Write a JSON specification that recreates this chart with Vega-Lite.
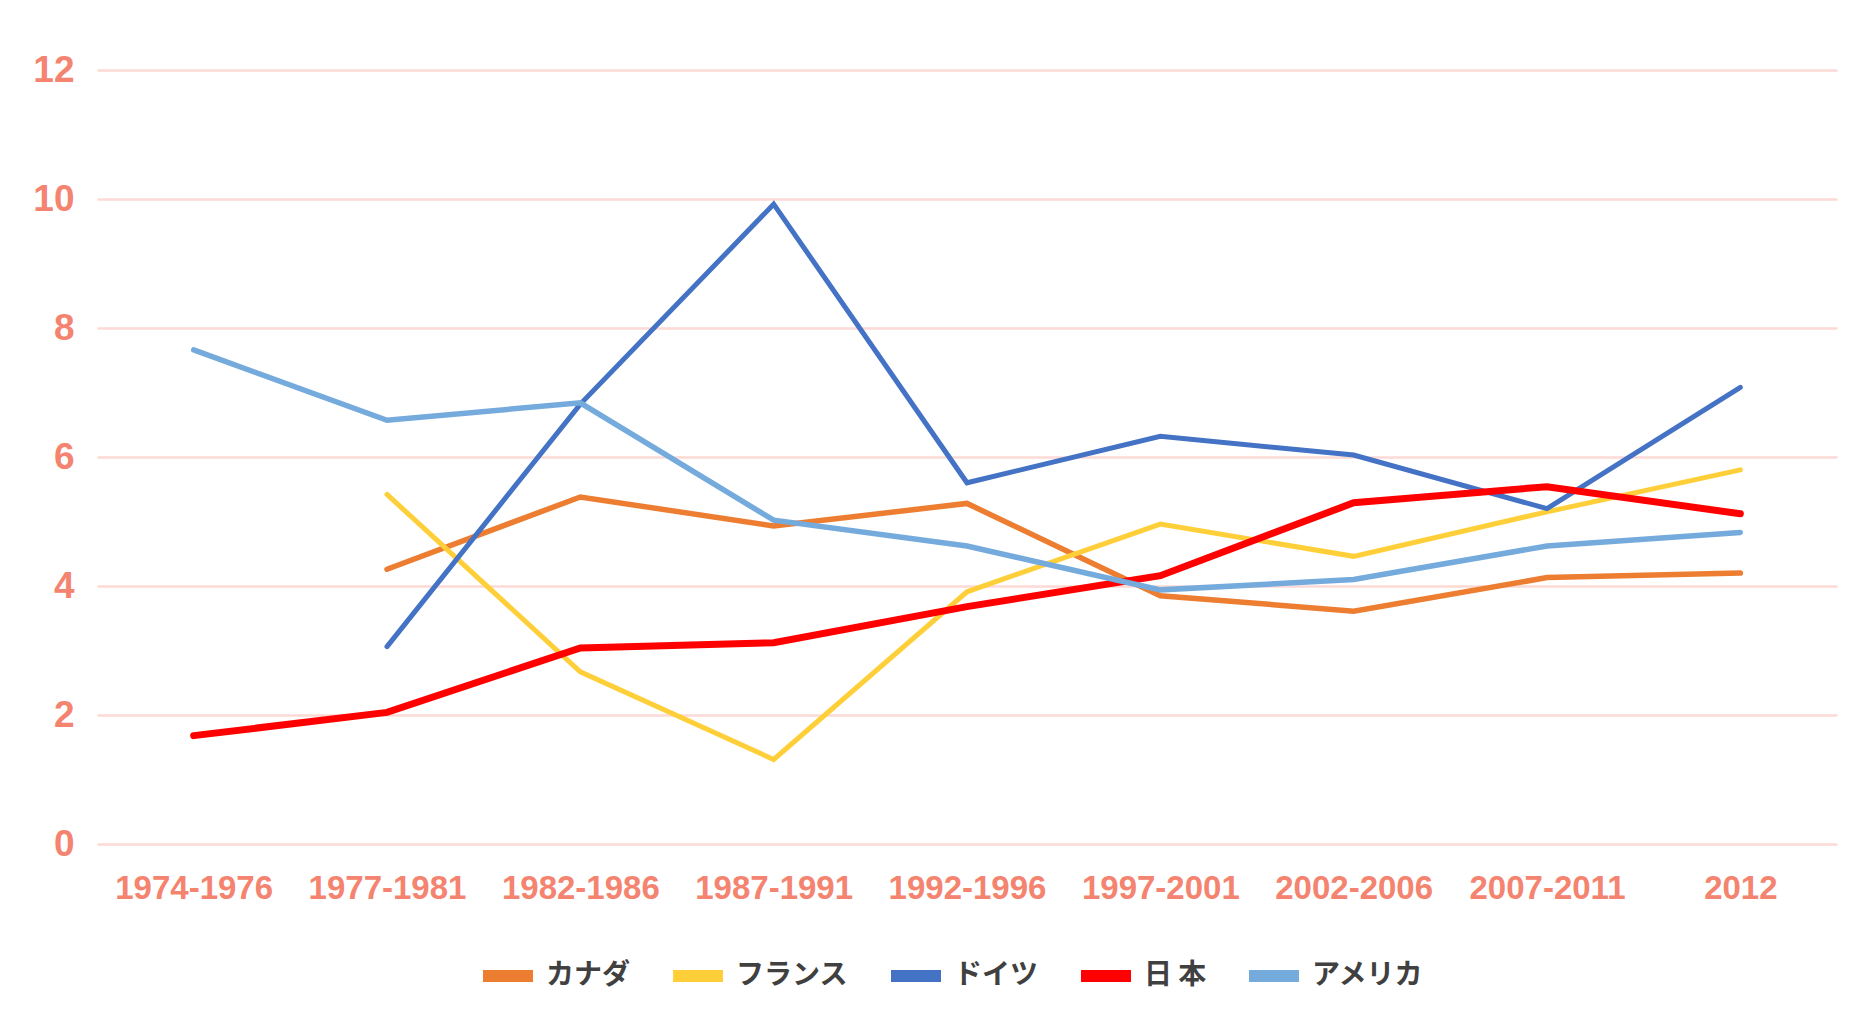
{
  "$schema": "https://vega.github.io/schema/vega-lite/v6.json",
  "width": 1740,
  "height": 774,
  "autosize": {"type": "none"},
  "padding": {"left": 97, "top": 70, "right": 33, "bottom": 176},
  "background": "#ffffff",
  "config": {
    "view": {"stroke": null},
    "axis": {"labelFont": "Liberation Sans", "labelFontWeight": "bold", "labelColor": "#F4836F"},
    "line": {"strokeCap": "round", "strokeJoin": "miter"}
  },
  "data": {
    "values": [
      {"period": "1977-1981", "country": "カナダ", "value": 4.26},
      {"period": "1982-1986", "country": "カナダ", "value": 5.38},
      {"period": "1987-1991", "country": "カナダ", "value": 4.93},
      {"period": "1992-1996", "country": "カナダ", "value": 5.28},
      {"period": "1997-2001", "country": "カナダ", "value": 3.85},
      {"period": "2002-2006", "country": "カナダ", "value": 3.61},
      {"period": "2007-2011", "country": "カナダ", "value": 4.13},
      {"period": "2012", "country": "カナダ", "value": 4.2},
      {"period": "1977-1981", "country": "フランス", "value": 5.42},
      {"period": "1982-1986", "country": "フランス", "value": 2.67},
      {"period": "1987-1991", "country": "フランス", "value": 1.31},
      {"period": "1992-1996", "country": "フランス", "value": 3.91},
      {"period": "1997-2001", "country": "フランス", "value": 4.96},
      {"period": "2002-2006", "country": "フランス", "value": 4.46},
      {"period": "2007-2011", "country": "フランス", "value": 5.15},
      {"period": "2012", "country": "フランス", "value": 5.8},
      {"period": "1977-1981", "country": "ドイツ", "value": 3.06},
      {"period": "1982-1986", "country": "ドイツ", "value": 6.82},
      {"period": "1987-1991", "country": "ドイツ", "value": 9.92},
      {"period": "1992-1996", "country": "ドイツ", "value": 5.6},
      {"period": "1997-2001", "country": "ドイツ", "value": 6.32},
      {"period": "2002-2006", "country": "ドイツ", "value": 6.03},
      {"period": "2007-2011", "country": "ドイツ", "value": 5.2},
      {"period": "2012", "country": "ドイツ", "value": 7.08},
      {"period": "1974-1976", "country": "日 本", "value": 1.68},
      {"period": "1977-1981", "country": "日 本", "value": 2.04},
      {"period": "1982-1986", "country": "日 本", "value": 3.04},
      {"period": "1987-1991", "country": "日 本", "value": 3.12},
      {"period": "1992-1996", "country": "日 本", "value": 3.68},
      {"period": "1997-2001", "country": "日 本", "value": 4.16},
      {"period": "2002-2006", "country": "日 本", "value": 5.29},
      {"period": "2007-2011", "country": "日 本", "value": 5.54},
      {"period": "2012", "country": "日 本", "value": 5.12},
      {"period": "1974-1976", "country": "アメリカ", "value": 7.66},
      {"period": "1977-1981", "country": "アメリカ", "value": 6.57},
      {"period": "1982-1986", "country": "アメリカ", "value": 6.84},
      {"period": "1987-1991", "country": "アメリカ", "value": 5.02},
      {"period": "1992-1996", "country": "アメリカ", "value": 4.62},
      {"period": "1997-2001", "country": "アメリカ", "value": 3.94},
      {"period": "2002-2006", "country": "アメリカ", "value": 4.1},
      {"period": "2007-2011", "country": "アメリカ", "value": 4.62},
      {"period": "2012", "country": "アメリカ", "value": 4.83}
    ]
  },
  "encoding": {
    "x": {
      "field": "period",
      "type": "ordinal",
      "sort": ["1974-1976", "1977-1981", "1982-1986", "1987-1991", "1992-1996", "1997-2001", "2002-2006", "2007-2011", "2012"],
      "scale": {"type": "point", "padding": 0.5},
      "axis": {
        "title": null,
        "domain": false,
        "ticks": false,
        "grid": false,
        "labelAngle": 0,
        "labelFontSize": 33,
        "labelPadding": 44,
        "labelBaseline": "middle"
      }
    },
    "y": {
      "field": "value",
      "type": "quantitative",
      "scale": {"domain": [0, 12], "nice": false},
      "axis": {
        "title": null,
        "domain": false,
        "ticks": false,
        "values": [0, 2, 4, 6, 8, 10, 12],
        "gridColor": "#FDDAD6",
        "gridWidth": 2.5,
        "labelFontSize": 37,
        "labelPadding": 23
      }
    },
    "color": {
      "field": "country",
      "type": "nominal",
      "scale": {
        "domain": ["カナダ", "フランス", "ドイツ", "日 本", "アメリカ"],
        "range": ["#ED7D31", "#FFCF3A", "#4472C4", "#FF0000", "#75AADC"]
      },
      "legend": {
        "title": null,
        "orient": "none",
        "direction": "horizontal",
        "legendX": 380,
        "legendY": 875,
        "padding": 0,
        "symbolType": "stroke",
        "symbolSize": 2500,
        "symbolStrokeWidth": 12,
        "symbolOpacity": 1,
        "labelFont": "Noto Sans CJK JP",
        "labelFontWeight": "bold",
        "labelFontSize": 28,
        "labelColor": "#404040",
        "labelOffset": 7,
        "columnPadding": 18,
        "labelLimit": 300,
        "encode": {
          "symbols": {"update": {"strokeWidth": {"value": 12}, "strokeCap": {"value": "butt"}, "opacity": {"value": 1}}}
        }
      }
    }
  },
  "layer": [
    {"transform": [{"filter": "datum.country === 'カナダ'"}], "mark": {"type": "line", "strokeWidth": 5.5}},
    {"transform": [{"filter": "datum.country === 'フランス'"}], "mark": {"type": "line", "strokeWidth": 5}},
    {"transform": [{"filter": "datum.country === 'ドイツ'"}], "mark": {"type": "line", "strokeWidth": 5}},
    {"transform": [{"filter": "datum.country === '日 本'"}], "mark": {"type": "line", "strokeWidth": 7}},
    {"transform": [{"filter": "datum.country === 'アメリカ'"}], "mark": {"type": "line", "strokeWidth": 5.5}}
  ]
}
